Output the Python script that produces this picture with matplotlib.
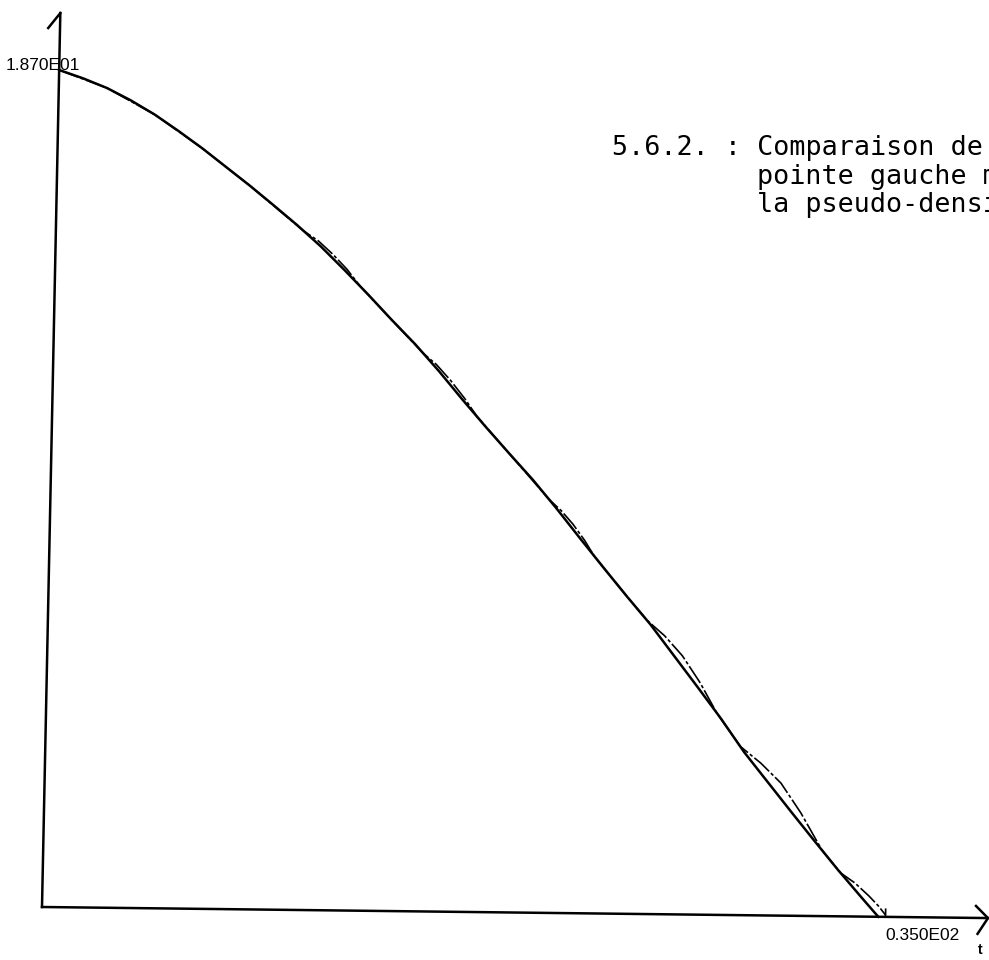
import numpy as np
import matplotlib
matplotlib.use('Agg')
import matplotlib.pyplot as plt
from matplotlib.transforms import Affine2D

# smooth (thick) curve
smooth_t = [0, 1, 2, 3, 4, 5, 6, 7, 8, 9, 10, 11, 12, 13, 14, 15, 16, 17, 18, 19,
            20, 21, 22, 23, 24, 25, 26, 27, 28, 29, 30, 31, 32, 33, 34, 34.7]
smooth_y = [18.70, 18.52, 18.31, 18.04, 17.73, 17.37, 16.99, 16.58, 16.17, 15.74,
            15.30, 14.83, 14.31, 13.77, 13.21, 12.67, 12.08, 11.45, 10.84, 10.25,
            9.67, 9.04, 8.38, 7.73, 7.09, 6.47, 5.78, 5.09, 4.39, 3.64,
            2.98, 2.32, 1.67, 1.03, 0.42, 0.0]

# thin dash-dot curve (pseudo-density), wobbles above the smooth one
wavy_t = [0, 2, 4, 6, 8, 10.25, 10.9, 11.5, 12.1, 12.67, 14, 15.34, 15.9, 16.5, 17.1,
          17.63, 19, 20.7, 21.2, 21.7, 22.2, 22.6, 24, 24.86, 25.6, 26.35, 27.1, 27.84,
          28.83, 29.7, 30.55, 31.4, 32.3, 32.8, 33.1, 33.7, 34.3, 34.7, 35]
wavy_y = [18.70, 18.31, 17.73, 16.99, 16.17, 15.18, 14.95, 14.66, 14.33, 13.95, 13.21,
          12.47, 12.22, 11.87, 11.47, 11.07, 10.25, 9.23, 8.99, 8.69, 8.33, 7.99, 7.09,
          6.56, 6.22, 5.78, 5.19, 4.50, 3.77, 3.40, 2.96, 2.30, 1.48, 1.16, 0.97, 0.75,
          0.46, 0.24, 0.04]

t_max = 35.0
y_max = 18.7
x_label = '0.350E02'
y_label = '1.870E01'
title_lines = ['5.6.2. : Comparaison de', 'pointe gauche m', 'la pseudo-densi']

W, H = 989, 960
fig = plt.figure(figsize=(W / 100, H / 100), dpi=100)
ox, oy = 42, 53
ax = fig.add_axes([ox / W, oy / H, 843.5 / W, 837 / H])
ax.set_xlim(0, t_max)
ax.set_ylim(0, y_max)
ax.axis('off')

# the scanned sheet is slightly skewed
skew = (Affine2D().translate(-ox, -oy)
        + Affine2D(np.array([[1, 0.0205, 0], [-0.0117, 1, 0], [0, 0, 1]]))
        + Affine2D().translate(ox, oy))
data_tr = ax.transData + skew
axes_tr = ax.transAxes + skew

ax.plot(wavy_t, wavy_y, transform=data_tr, color='black', lw=1.2,
        dashes=(12, 1.5, 2, 1.5), clip_on=False)
ax.plot(smooth_t, smooth_y, transform=data_tr, color='black', lw=1.8, clip_on=False)

# hand-drawn looking axes with arrows
kw = dict(transform=axes_tr, color='black', lw=1.8, clip_on=False)
ax.plot([0, 0], [0, 1.068], **kw)
ax.plot([-0.014, 0], [1.05, 1.068], **kw)
ax.plot([0, 1.1215], [0, 0], **kw)
ax.plot([1.107, 1.1215, 1.1095], [0.0143, 0, -0.019], **kw)
ax.plot([t_max, t_max], [0, 0.17], transform=data_tr, color='black', lw=1.2, clip_on=False)

ax.annotate(y_label, xy=(0, y_max), xycoords=data_tr, xytext=(21, 0),
            textcoords='offset pixels', ha='right', va='baseline', fontsize=12.5,
            family='Liberation Sans')
ax.annotate(x_label, xy=(t_max, 0), xycoords=data_tr, xytext=(0, -11),
            textcoords='offset pixels', ha='left', va='top', fontsize=12.5,
            family='Liberation Sans')
ax.annotate('t', xy=(t_max, 0), xycoords=data_tr, xytext=(92, -26),
            textcoords='offset pixels', ha='left', va='top', fontsize=10,
            fontweight='bold', family='Liberation Sans')

char_w = 16.1
x0 = 612
baselines = [155, 184, 212]
for i, line in enumerate(title_lines):
    x = x0 if i == 0 else x0 + 9 * char_w
    fig.text(x / W, 1 - baselines[i] / H, line, fontsize=19.3,
             family='DejaVu Sans Mono', va='baseline', ha='left')

fig.savefig('out.png', dpi=100, facecolor='white')
